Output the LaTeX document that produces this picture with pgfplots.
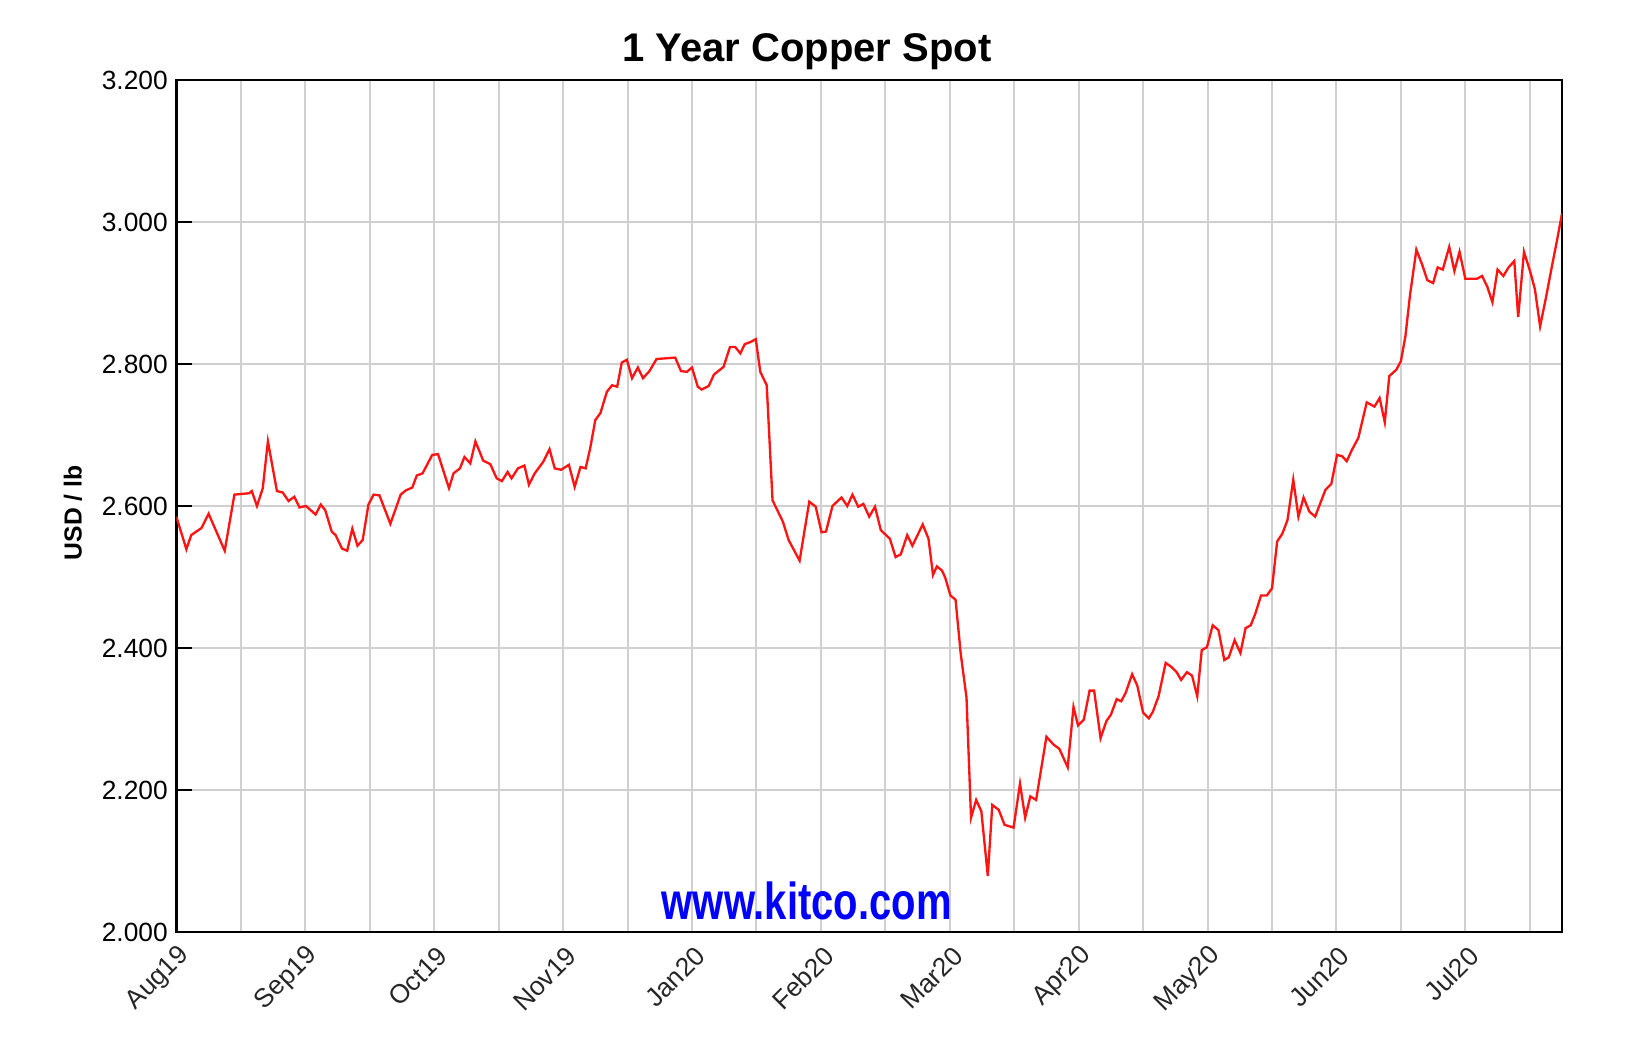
\documentclass[border=0pt]{standalone}
\usepackage{pgfplots}
\pgfplotsset{compat=1.18}
\usepackage{fontspec}
\setmainfont{Liberation Sans}
\usepackage{graphicx}
\definecolor{gridgray}{RGB}{208,208,208}
\definecolor{kitcoblue}{RGB}{0,0,255}
\definecolor{linered}{RGB}{255,20,20}
\begin{document}
\begin{tikzpicture}
\useasboundingbox (0,0) rectangle (495.3pt,316.2pt);
\begin{axis}[
  scale only axis, width=415.68pt, height=255.6pt,
  at={(52.92pt,36.6pt)}, anchor=south west,
  xmin=0, xmax=21.5, ymin=2, ymax=3.2,
  xtick={0,2,4,6,8,10,12,14,16,18,20},
  minor xtick={1,3,5,7,9,11,13,15,17,19,21},
  xticklabels={Aug19,Sep19,Oct19,Nov19,Jan20,Feb20,Mar20,Apr20,May20,Jun20,Jul20},
  ytick={2,2.2,2.4,2.6,2.8,3.0,3.2},
  xtick pos=bottom, ytick pos=left,
  grid=both, major grid style={gridgray, line width=0.6pt},
  minor grid style={gridgray, line width=0.6pt},
  axis line style={black, line width=0.7pt},
  tick align=inside, major tick length=4.8pt, minor tick length=0pt,
  ytick style={black, line width=0.7pt},
  xtick style={draw=none},
  /pgf/number format/assume math mode=true,
  yticklabel style={font=\fontsize{7.9}{9}\selectfont, anchor=east, inner sep=0pt, xshift=-2.4pt,
    /pgf/number format/.cd, fixed, fixed zerofill, precision=3},
  xticklabel style={font=\fontsize{7.9}{9}\selectfont, text=black!85, rotate=45, anchor=east, inner sep=0pt, xshift=-2.2pt, yshift=-6pt},
  ylabel={USD / lb},
  every axis y label/.style={at={(rel axis cs:-0.0746,0.492)}, rotate=90, anchor=center, font=\bfseries\fontsize{7.4}{9}\selectfont},
  title={1 Year Copper Spot},
  every axis title/.style={at={(rel axis cs:0.455,1.0215)}, anchor=base, font=\bfseries\fontsize{12}{14}\selectfont},
]
\addplot[linered, line width=0.7pt] coordinates {
(0.00,2.585) (0.155,2.539) (0.23,2.559) (0.39,2.569) (0.50,2.589) (0.75,2.537) (0.90,2.616)
(1.13,2.618) (1.17,2.621) (1.25,2.600) (1.34,2.625) (1.42,2.691) (1.56,2.621) (1.65,2.619)
(1.74,2.607) (1.83,2.613) (1.91,2.598) (2.01,2.600) (2.16,2.588) (2.24,2.602) (2.31,2.594)
(2.41,2.564) (2.47,2.559) (2.57,2.540) (2.65,2.537) (2.73,2.568) (2.81,2.544) (2.89,2.552)
(2.98,2.602) (3.06,2.616) (3.15,2.615) (3.32,2.575) (3.48,2.616) (3.56,2.622) (3.66,2.626)
(3.73,2.643) (3.82,2.646) (3.97,2.672) (4.06,2.673) (4.23,2.625) (4.30,2.646) (4.40,2.653)
(4.47,2.669) (4.56,2.660) (4.64,2.691) (4.76,2.664) (4.87,2.659) (4.97,2.639) (5.05,2.635)
(5.14,2.648) (5.20,2.639) (5.30,2.653) (5.40,2.657) (5.47,2.630) (5.56,2.646) (5.69,2.662)
(5.79,2.680) (5.87,2.653) (5.97,2.651) (6.09,2.658) (6.18,2.627) (6.27,2.655) (6.35,2.653)
(6.42,2.681) (6.50,2.721) (6.58,2.731) (6.68,2.761) (6.76,2.770) (6.84,2.768) (6.91,2.802)
(6.99,2.806) (7.07,2.780) (7.16,2.795) (7.24,2.780) (7.34,2.790) (7.45,2.807) (7.74,2.809)
(7.83,2.790) (7.92,2.789) (8.00,2.795) (8.09,2.768) (8.15,2.764) (8.26,2.769) (8.34,2.785)
(8.49,2.796) (8.59,2.824) (8.67,2.824) (8.75,2.815) (8.82,2.828) (8.91,2.831) (8.99,2.835)
(9.06,2.789) (9.16,2.770) (9.25,2.608) (9.41,2.578) (9.50,2.552) (9.67,2.523) (9.82,2.606)
(9.92,2.599) (10.01,2.563) (10.08,2.564) (10.18,2.600) (10.32,2.612) (10.41,2.600) (10.49,2.616)
(10.58,2.599) (10.66,2.603) (10.75,2.585) (10.84,2.599) (10.93,2.566) (11.07,2.554) (11.16,2.528)
(11.24,2.532) (11.34,2.559) (11.42,2.544) (11.58,2.574) (11.67,2.554) (11.74,2.503) (11.80,2.515)
(11.88,2.509) (11.93,2.499) (12.01,2.474) (12.09,2.468) (12.17,2.392) (12.26,2.330) (12.33,2.161)
(12.41,2.186) (12.49,2.170) (12.59,2.079) (12.66,2.179) (12.76,2.172) (12.85,2.151) (12.99,2.147)
(13.09,2.209) (13.17,2.161) (13.25,2.191) (13.34,2.186) (13.50,2.275) (13.61,2.264) (13.70,2.258)
(13.83,2.232) (13.92,2.317) (13.99,2.291) (14.08,2.299) (14.17,2.340) (14.24,2.340) (14.34,2.273)
(14.43,2.297) (14.50,2.306) (14.59,2.328) (14.66,2.325) (14.73,2.337) (14.83,2.363) (14.91,2.347)
(15.00,2.309) (15.09,2.301) (15.15,2.310) (15.24,2.332) (15.35,2.379) (15.43,2.374) (15.52,2.366)
(15.59,2.355) (15.68,2.366) (15.76,2.361) (15.84,2.332) (15.91,2.397) (15.99,2.401) (16.08,2.432)
(16.17,2.425) (16.26,2.383) (16.33,2.387) (16.42,2.411) (16.51,2.393) (16.59,2.428) (16.67,2.432)
(16.74,2.448) (16.83,2.474) (16.92,2.474) (17.00,2.484) (17.08,2.550) (17.16,2.561) (17.24,2.580)
(17.33,2.637) (17.41,2.585) (17.49,2.612) (17.58,2.592) (17.67,2.585) (17.83,2.623) (17.92,2.631)
(18.01,2.672) (18.09,2.670) (18.16,2.663) (18.24,2.679) (18.34,2.696) (18.47,2.746) (18.59,2.740)
(18.67,2.752) (18.75,2.718) (18.82,2.783) (18.93,2.792) (19.00,2.804) (19.07,2.839) (19.14,2.896)
(19.24,2.961) (19.33,2.940) (19.41,2.918) (19.50,2.914) (19.57,2.936) (19.65,2.933) (19.75,2.965)
(19.83,2.931) (19.91,2.958) (20.00,2.920) (20.18,2.920) (20.26,2.924) (20.34,2.909) (20.42,2.887)
(20.50,2.933) (20.59,2.924) (20.67,2.936) (20.76,2.945) (20.82,2.866) (20.91,2.958) (21.01,2.929)
(21.08,2.905) (21.16,2.853) (21.25,2.893) (21.34,2.936) (21.42,2.973) (21.50,3.012)
};
\node[anchor=base, inner sep=0pt, text=kitcoblue, font=\bfseries\fontsize{12}{14}\selectfont]
  at (rel axis cs:0.4549,0.0141) {\scalebox{1}[1.3]{www.kitco.com}};
\end{axis}
\end{tikzpicture}
\end{document}
